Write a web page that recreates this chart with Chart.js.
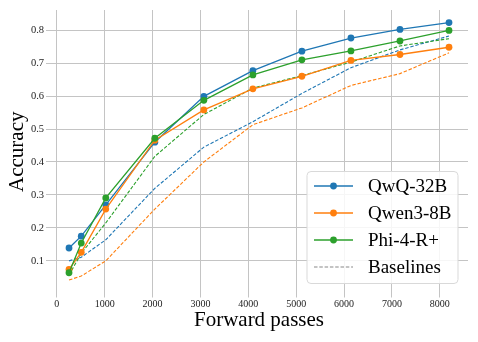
<!DOCTYPE html>
<html>
<head>
<meta charset="utf-8">
<script src="https://cdn.jsdelivr.net/npm/chart.js@4/dist/chart.umd.min.js"></script>
<style>
  html, body { margin: 0; padding: 0; background: #fff; }
  #wrap { width: 478px; height: 342px; }
</style>
</head>
<body>
<div id="wrap"><canvas id="grafico" width="478" height="342"></canvas></div>
<script>
// Datos
const pasos = [256, 512, 1024, 2048, 3072, 4096, 5120, 6144, 7168, 8192];
const qwq32b = [0.139, 0.175, 0.270, 0.460, 0.599, 0.677, 0.736, 0.776, 0.802, 0.823];
const qwen38b = [0.074, 0.126, 0.257, 0.466, 0.558, 0.622, 0.660, 0.708, 0.726, 0.748];
const phi4r = [0.064, 0.154, 0.291, 0.472, 0.587, 0.664, 0.710, 0.737, 0.767, 0.799];
const baseQwq = [0.100, 0.111, 0.164, 0.320, 0.445, 0.522, 0.608, 0.686, 0.740, 0.782];
const baseQwen = [0.042, 0.054, 0.100, 0.257, 0.400, 0.513, 0.564, 0.632, 0.668, 0.731];
const basePhi = [0.057, 0.123, 0.215, 0.417, 0.544, 0.624, 0.662, 0.703, 0.752, 0.774];
const ticksX = [0, 1000, 2000, 3000, 4000, 5000, 6000, 7000, 8000];
const ticksY = [0.1, 0.2, 0.3, 0.4, 0.5, 0.6, 0.7, 0.8];
const nombres = ["QwQ-32B", "Qwen3-8B", "Phi-4-R+", "Baselines"];

const AZUL = "#1f77b4", NARANJA = "#ff7f0e", VERDE = "#2ca02c";
const SERIF = "'Liberation Serif', 'DejaVu Serif', serif";

const puntos = vals => vals.map((v, i) => ({ x: pasos[i], y: v }));

function serieSolida(label, vals, color) {
    return {
        label, data: puntos(vals), borderColor: color, backgroundColor: color,
        borderWidth: 1.3, pointRadius: 3.4, pointBorderWidth: 0, tension: 0
    };
}
function serieBase(label, vals, color) {
    return {
        label, data: puntos(vals), borderColor: color, backgroundColor: color,
        borderWidth: 1.1, borderDash: [3.5, 1.8], pointRadius: 0, tension: 0
    };
}

// Leyenda dentro del área del gráfico
const leyendaInterna = {
    id: "leyendaInterna",
    afterDatasetsDraw(chart) {
        const ctx = chart.ctx;
        const area = chart.chartArea;
        const x0 = area.right - 161, y0 = area.bottom - 122, w = 151, h = 112;
        ctx.save();
        ctx.beginPath();
        ctx.roundRect(x0, y0, w, h, 4);
        ctx.fillStyle = "rgba(255,255,255,0.85)";
        ctx.fill();
        ctx.strokeStyle = "#d9d9d9";
        ctx.lineWidth = 1;
        ctx.stroke();
        const colores = [AZUL, NARANJA, VERDE, "#888888"];
        nombres.forEach((nombre, i) => {
            const y = y0 + 14.5 + i * 27;
            ctx.strokeStyle = colores[i];
            ctx.lineWidth = i < 3 ? 1.3 : 1.1;
            ctx.setLineDash(i < 3 ? [] : [3.5, 1.8]);
            ctx.beginPath();
            ctx.moveTo(x0 + 7, y);
            ctx.lineTo(x0 + 46, y);
            ctx.stroke();
            ctx.setLineDash([]);
            if (i < 3) {
                ctx.fillStyle = colores[i];
                ctx.beginPath();
                ctx.arc(x0 + 26.5, y, 3.4, 0, Math.PI * 2);
                ctx.fill();
            }
            ctx.fillStyle = "#000";
            ctx.font = "19px " + SERIF;
            ctx.textBaseline = "middle";
            ctx.fillText(nombre, x0 + 61, y + 1);
        });
        ctx.restore();
    }
};

new Chart(document.getElementById("grafico"), {
    type: "line",
    data: {
        datasets: [
            serieSolida(nombres[2], phi4r, VERDE),
            serieSolida(nombres[1], qwen38b, NARANJA),
            serieSolida(nombres[0], qwq32b, AZUL),
            serieBase("Base Phi", basePhi, VERDE),
            serieBase("Base Qwen", baseQwen, NARANJA),
            serieBase("Base QwQ", baseQwq, AZUL)
        ]
    },
    options: {
        responsive: false,
        animation: false,
        layout: { padding: { top: 10, right: 10, left: 0, bottom: 0 } },
        plugins: { legend: { display: false }, tooltip: { enabled: false } },
        scales: {
            x: {
                type: "linear", min: -141, max: 8589,
                afterBuildTicks: s => { s.ticks = ticksX.map(v => ({ value: v })); },
                afterFit: s => { s.height = 48.5; },
                grid: { color: "#c4c4c4", lineWidth: 1, tickLength: 4 },
                border: { display: false },
                ticks: { padding: 1, color: "#222", font: { family: SERIF, size: 10 },
                         callback: v => String(v) },
                title: { display: true, text: "Forward passes", color: "#000",
                         font: { family: SERIF, size: 21 }, padding: { top: 0, bottom: 9 } }
            },
            y: {
                min: 0.001, max: 0.861,
                afterBuildTicks: s => { s.ticks = ticksY.map(v => ({ value: v })); },
                afterFit: s => { s.width = 50; },
                grid: { color: "#c4c4c4", lineWidth: 1, tickLength: 4 },
                border: { display: false },
                ticks: { padding: 2, color: "#222", font: { family: SERIF, size: 10.5 },
                         callback: v => v.toFixed(1) },
                title: { display: true, text: "Accuracy", color: "#000",
                         font: { family: SERIF, size: 21 }, padding: { top: 5, bottom: 0 } }
            }
        }
    },
    plugins: [leyendaInterna]
});
</script>
</body>
</html>
